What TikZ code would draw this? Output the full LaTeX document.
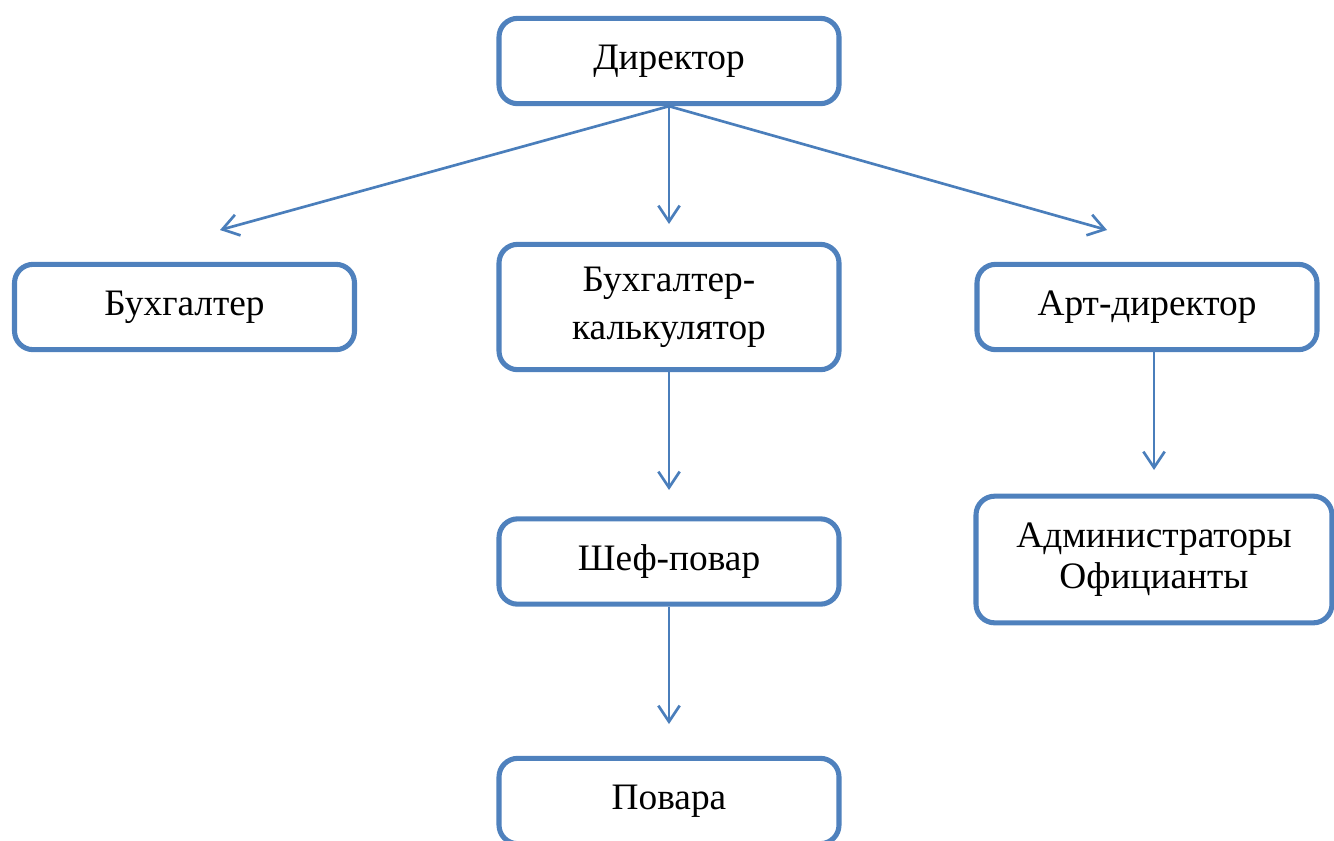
\documentclass[tikz,border=0pt]{standalone}
\usepackage{fontspec}
\setmainfont{Liberation Serif}
\usetikzlibrary{arrows.meta}
\definecolor{boxblue}{HTML}{4F81BD}
\definecolor{lineblue}{HTML}{4A7EBB}
\begin{document}
\begin{tikzpicture}[x=0.75pt,y=-0.75pt,
  box/.style={draw=boxblue,line width=3.8pt,rounded corners=14pt,fill=white,
    minimum width=255pt,minimum height=64pt,align=center,inner sep=0pt,
    font=\fontsize{28}{36}\selectfont},
  conn/.style={draw=lineblue,line width=2pt,
    -{Straight Barb[length=12pt,width=16pt,line width=2pt]}}]
\useasboundingbox (0,0) rectangle (1334,840);
\node[box] (dir) at (669,61) {Директор};
\node[box] (buh) at (184.5,307) {Бухгалтер};
\node[box,minimum height=94pt,font=\fontsize{28}{36}\selectfont] (bk) at (669,307) {Бухгалтер-\\калькулятор};
\node[box] (art) at (1147,307) {Арт-директор};
\node[box] (chef) at (669,561.5) {Шеф-повар};
\node[box,minimum width=267pt,minimum height=95pt,font=\fontsize{28}{31}\selectfont] (adm) at (1154,559.5) {Администраторы\\Официанты};
\node[box] (pov) at (669,801) {Повара};
\coordinate (t1) at (220,230);
\coordinate (t2) at (669,224);
\coordinate (t3) at (1107,230);
\coordinate (t4) at (669,490);
\coordinate (t5) at (1154,470);
\coordinate (t6) at (669,724);
\draw[conn] (dir.south) -- (t1);
\draw[conn] (dir.south) -- (t2);
\draw[conn] (dir.south) -- (t3);
\draw[conn] (bk.south) -- (t4);
\draw[conn] (art.south -| adm.north) -- (t5);
\draw[conn] (chef.south) -- (t6);
\end{tikzpicture}
\end{document}
